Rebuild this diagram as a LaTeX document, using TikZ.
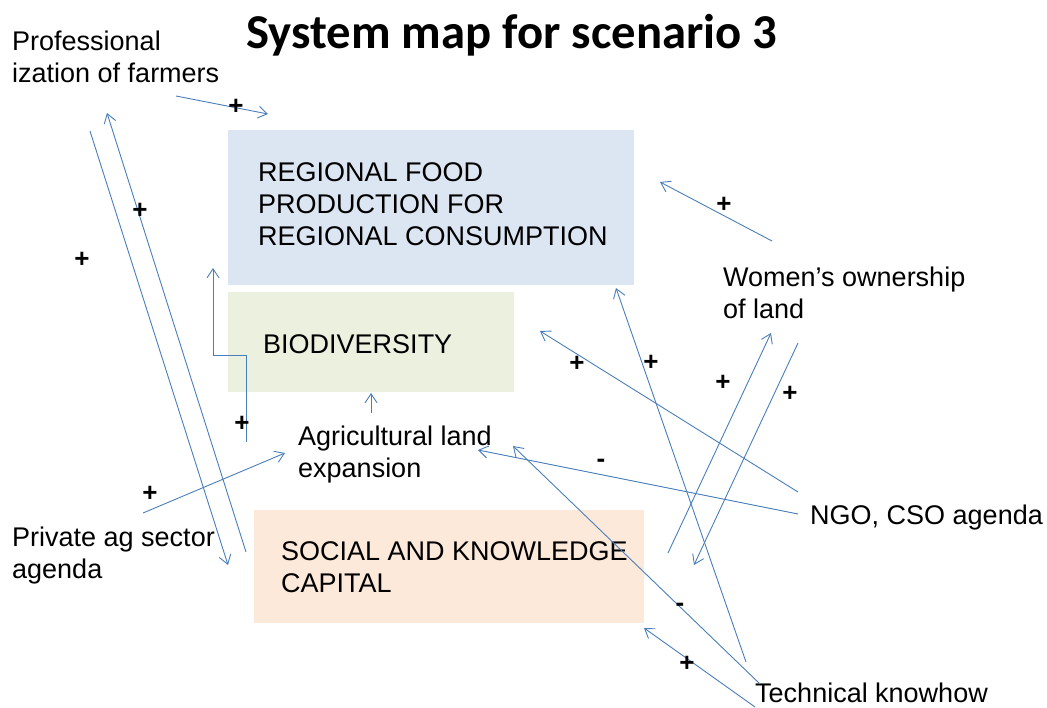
\documentclass[tikz,border=0pt]{standalone}
\usepackage{fontspec}
\setmainfont{Liberation Sans}
\newfontfamily\titlefont{Carlito}
\usetikzlibrary{arrows.meta}
\definecolor{arr}{HTML}{4A7EBB}
\definecolor{boxblue}{HTML}{DCE6F2}
\definecolor{boxgreen}{HTML}{EBF1DE}
\definecolor{boxpeach}{HTML}{FDE9D9}
\newcommand{\mylines}[1]{\begin{tabular}[t]{@{}l@{}}#1\end{tabular}}
\begin{document}
\begin{tikzpicture}[x=1pt,y=-1pt,
  lbl/.style={inner sep=0pt, anchor=base west, font=\fontsize{27}{32}\selectfont},
  sign/.style={inner sep=0pt, font=\bfseries\fontsize{26}{32}\selectfont},
  link/.style={draw=arr, line width=0.9pt, -{Straight Barb[length=9pt,width=12pt,line width=0.9pt]}},
  panel/.style={draw=none, inner sep=0pt, anchor=north west}]
\useasboundingbox (0,0) rectangle (1047,707);
% title
\node[inner sep=0pt, anchor=base, font=\titlefont\bfseries\fontsize{48.7}{56}\selectfont] (title) at (512,48) {System map for scenario 3};
% boxes
\node[panel, fill=boxblue, minimum width=406pt, minimum height=155pt] (regbox) at (228,130) {};
\node[panel, fill=boxgreen, minimum width=286pt, minimum height=100pt] (biobox) at (228,292) {};
\node[panel, fill=boxpeach, minimum width=390pt, minimum height=113pt] (socbox) at (254,510) {};
% texts
\node[lbl] (reg) at (258,181) {\mylines{REGIONAL FOOD\\PRODUCTION FOR\\REGIONAL CONSUMPTION}};
\node[lbl] (bio) at (263,353) {BIODIVERSITY};
\node[lbl] (soc) at (281,560) {\mylines{SOCIAL AND KNOWLEDGE\\CAPITAL}};
\node[lbl] (prof) at (12,50) {\mylines{Professional\\ization of farmers}};
\node[lbl] (women) at (723,286) {\mylines{Women’s ownership\\of land}};
\node[lbl] (agri) at (298,445) {\mylines{Agricultural land\\expansion}};
\node[lbl] (priv) at (12,546) {\mylines{Private ag sector\\agenda}};
\node[lbl] (ngo) at (810,524) {NGO, CSO agenda};
\node[lbl] (tech) at (755,702) {Technical knowhow};
% connector end points
\coordinate (p1s) at (176,96);  \coordinate (p1e) at (268,114);
\coordinate (p2s) at (90,131);  \coordinate (p2e) at (228,565);
\coordinate (p3s) at (246,552); \coordinate (p3e) at (107,113);
\coordinate (e1) at (246,442);  \coordinate (e2) at (246,355); \coordinate (e3) at (213,355); \coordinate (e4) at (213,268);
\coordinate (a1s) at (371,413); \coordinate (a1e) at (371,393);
\coordinate (pvs) at (143,513); \coordinate (pve) at (285,453);
\coordinate (ws) at (772,241);  \coordinate (we) at (660,182);
\coordinate (n1s) at (798,492); \coordinate (n1e) at (540,331);
\coordinate (n2s) at (798,514); \coordinate (n2e) at (478,450);
\coordinate (t1s) at (746,662); \coordinate (t1e) at (616,288);
\coordinate (t2s) at (760,684); \coordinate (t2e) at (513,446);
\coordinate (t3s) at (755,707); \coordinate (t3e) at (644,628);
\coordinate (s1s) at (668,553); \coordinate (s1e) at (771,333);
\coordinate (s2s) at (798,343); \coordinate (s2e) at (694,565);
% connectors
\draw[link] (p1s) -- (p1e);
\draw[link] (p2s) -- (p2e);
\draw[link] (p3s) -- (p3e);
\draw[link] (e1) -- (e2) -- (e3) -- (e4);
\draw[link] (a1s) -- (a1e);
\draw[link] (pvs) -- (pve);
\draw[link] (ws) -- (we);
\draw[link] (n1s) -- (n1e);
\draw[link] (n2s) -- (n2e);
\draw[link] (t1s) -- (t1e);
\draw[link] (t2s) -- (t2e);
\draw[link] (t3s) -- (t3e);
\draw[link] (s1s) -- (s1e);
\draw[link] (s2s) -- (s2e);
% signs
\node[sign] (g1) at (236,107) {+};
\node[sign] (g2) at (140,211) {+};
\node[sign] (g3) at (82,260) {+};
\node[sign] (g4) at (242,424) {+};
\node[sign] (g5) at (150,494) {+};
\node[sign] (g6) at (724,205) {+};
\node[sign] (g7) at (577,364) {+};
\node[sign] (g8) at (651,363) {+};
\node[sign] (g9) at (723,383) {+};
\node[sign] (g10) at (790,394) {+};
\node[sign] (g11) at (601,463) {-};
\node[sign] (g12) at (680,607) {-};
\node[sign] (g13) at (687,664) {+};
\end{tikzpicture}
\end{document}
